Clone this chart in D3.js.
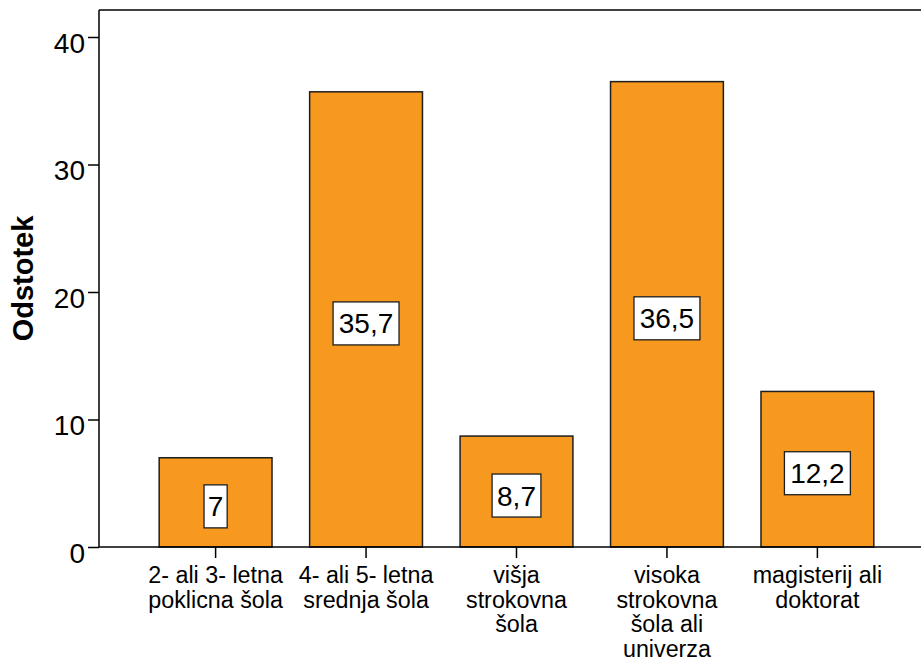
<!DOCTYPE html>
<html>
<head>
<meta charset="utf-8">
<script src="https://cdn.jsdelivr.net/npm/d3@7"></script>
<style>
  html, body { margin: 0; padding: 0; background: #fff; }
  svg { display: block; }
  text { font-family: "Liberation Sans", Arial, Helvetica, sans-serif; fill: #000; }
</style>
</head>
<body>
<script>
// Education level categories (lines of each label split with "\n")
const categories = [
  "2- ali 3- letna\npoklicna šola",
  "4- ali 5- letna\nsrednja šola",
  "višja\nstrokovna\nšola",
  "visoka\nstrokovna\nšola ali\nuniverza",
  "magisterij ali\ndoktorat"
];
// Share of respondents, percent
const values = [7, 35.7, 8.7, 36.5, 12.2];
const yTicks = [0, 10, 20, 30, 40];
const yTitle = "Odstotek";

const W = 921, H = 660;
const plot = { left: 99, top: 10, bottom: 547, right: 934 };

const svg = d3.select("body").append("svg")
  .attr("width", W).attr("height", H);

const x = d3.scaleBand()
  .domain(categories)
  .range([plot.left, plot.right])
  .paddingInner(0.25)
  .paddingOuter(0.4);

const y = d3.scaleLinear()
  .domain([0, 40])
  .range([plot.bottom, 37]);

const fmt = v => String(v).replace(".", ",");

// Bars
svg.append("g").selectAll("rect")
  .data(values)
  .join("rect")
  .attr("x", (d, i) => x(categories[i]))
  .attr("y", d => y(d))
  .attr("width", x.bandwidth())
  .attr("height", d => y(0) - y(d))
  .attr("fill", "#f7991f")
  .attr("stroke", "#1e1e1e")
  .attr("stroke-width", 1.5);

// Value labels in white boxes at mid-height of each bar
const lbl = svg.append("g").selectAll("g")
  .data(values)
  .join("g")
  .attr("transform", (d, i) => {
    const cx = x(categories[i]) + x.bandwidth() / 2;
    const cy = (y(d) + y(0)) / 2 + 4;
    return `translate(${cx},${cy})`;
  });
lbl.append("text")
  .attr("text-anchor", "middle")
  .attr("y", 10)
  .style("font-size", "28px")
  .text(fmt);
lbl.each(function () {
  const g = d3.select(this);
  const tw = g.select("text").node().getComputedTextLength();
  const pad = 3 + tw * 0.05;
  g.insert("rect", "text")
    .attr("x", -tw / 2 - pad)
    .attr("y", -21.5)
    .attr("width", tw + 2 * pad)
    .attr("height", 43)
    .attr("fill", "#fff")
    .attr("stroke", "#1e1e1e")
    .attr("stroke-width", 1.3);
});

// Y axis
const yAxis = svg.append("g")
  .attr("transform", `translate(${plot.left},0)`)
  .call(d3.axisLeft(y).tickValues(yTicks).tickSize(11).tickPadding(3).tickFormat(d3.format("d")));
yAxis.select(".domain").remove();
yAxis.selectAll(".tick line").attr("stroke", "#000").attr("stroke-width", 1.5);
yAxis.selectAll(".tick text")
  .attr("dy", null)
  .attr("y", 15)
  .style("font-size", "28px")
  .style("font-family", "'Liberation Sans', Arial, sans-serif");

// X axis
const xAxis = svg.append("g")
  .attr("transform", `translate(0,${plot.bottom})`)
  .call(d3.axisBottom(x).tickSize(11).tickFormat(""));
xAxis.select(".domain").remove();
xAxis.selectAll(".tick line").attr("stroke", "#000").attr("stroke-width", 1.5);
xAxis.selectAll(".tick").each(function (d) {
  const t = d3.select(this).append("text")
    .attr("text-anchor", "middle")
    .style("font-size", "23.3px")
    .style("font-family", "'Liberation Sans', Arial, sans-serif");
  d.split("\n").forEach((line, k) => {
    t.append("tspan").attr("x", 0).attr("y", 36 + k * 24.5).text(line);
  });
});

// Frame: left axis line, baseline and top border
svg.append("line")
  .attr("x1", plot.left).attr("x2", plot.left)
  .attr("y1", plot.top).attr("y2", plot.bottom)
  .attr("stroke", "#000").attr("stroke-width", 1.5);
svg.append("line")
  .attr("x1", plot.left).attr("x2", W)
  .attr("y1", plot.bottom).attr("y2", plot.bottom)
  .attr("stroke", "#000").attr("stroke-width", 1.5);
svg.append("line")
  .attr("x1", plot.left).attr("x2", W)
  .attr("y1", plot.top).attr("y2", plot.top)
  .attr("stroke", "#000").attr("stroke-width", 1.5);

// Y axis title
svg.append("text")
  .attr("transform", `translate(33,${(plot.top + plot.bottom) / 2}) rotate(-90)`)
  .attr("text-anchor", "middle")
  .style("font-size", "29px")
  .style("font-weight", "bold")
  .text(yTitle);
</script>
</body>
</html>
